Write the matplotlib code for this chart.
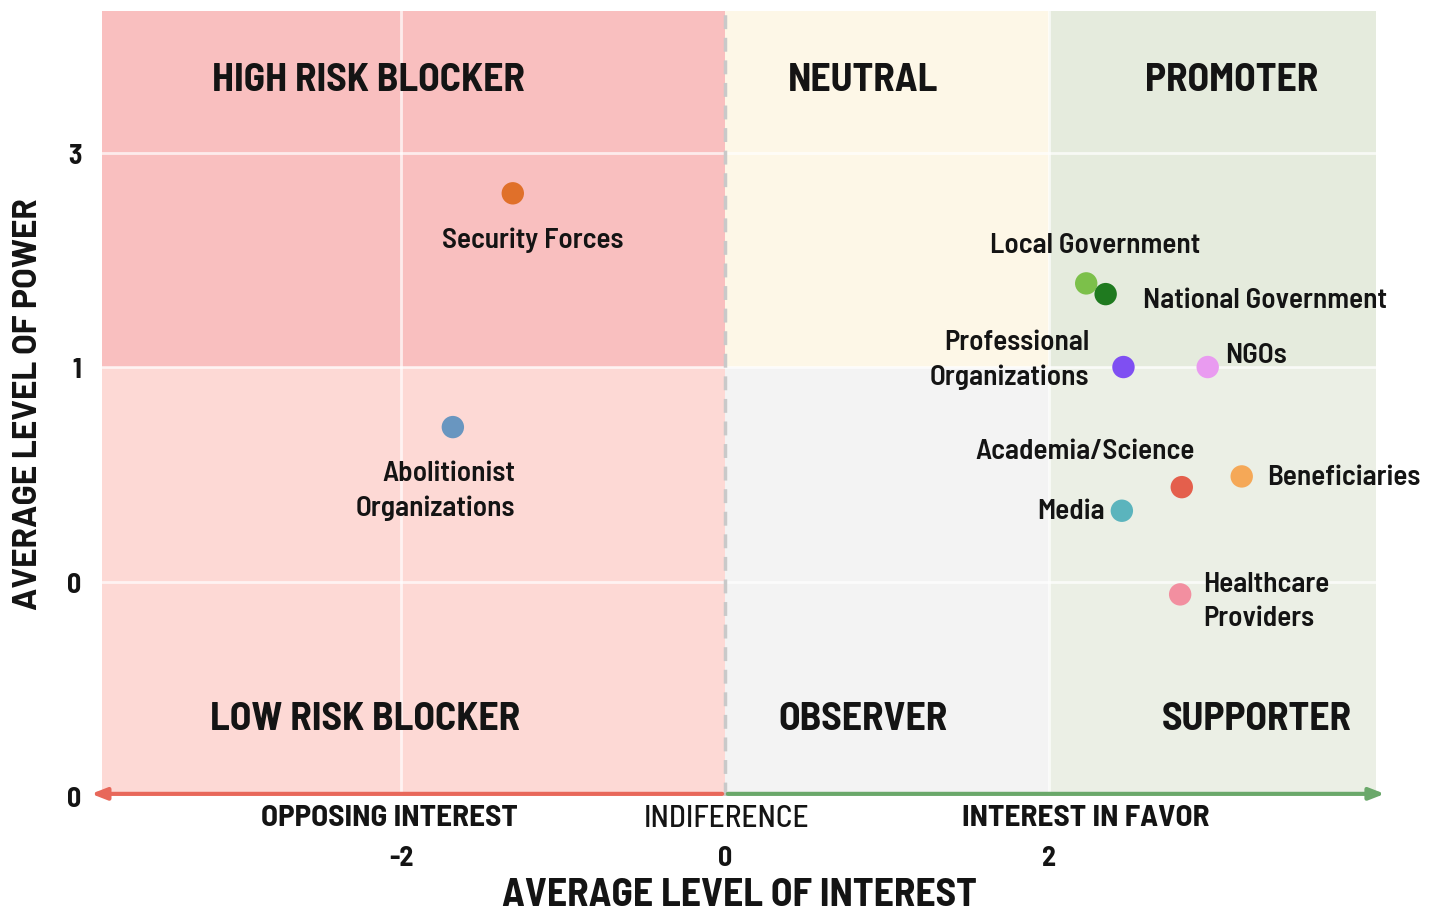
import matplotlib.pyplot as plt
from matplotlib.patches import Rectangle

# stakeholders and their position (interest, power)
names = ['Security Forces', 'Abolitionist\nOrganizations', 'Local Government',
         'National Government', 'Professional\nOrganizations', 'NGOs',
         'Academia/Science', 'Beneficiaries', 'Media', 'Healthcare\nProviders']
interest = [-1.31, -1.68, 2.23, 2.35, 2.46, 2.98, 2.82, 3.19, 2.45, 2.81]
power = [2.81, 1.72, 2.39, 2.34, 2.00, 2.00, 1.44, 1.49, 1.33, 0.94]
colors = ['#e0702a', '#6996c0', '#7cc04a', '#1f7a1f', '#7f4ff2', '#e99bf0',
          '#e45f4c', '#f5a857', '#5bb4bd', '#f28fa0']

# label offsets in pixels (dx, dy) and alignment
offsets = [(20, -46, 'center'), (62, -63, 'right'), (9, 39, 'center'),
           (37, -5, 'left'), (-34, 8, 'right'), (17, 13, 'left'),
           (-97, 37, 'center'), (25, 0, 'left'), (-17, 0, 'right'),
           (23, -6, 'left')]

x_ticks = [-2, 0, 2]
y_ticks = [0, 1, 2, 3]
y_tick_labels = ['0', '0', '1', '3']
interest_cats = ['OPPOSING INTEREST', 'INDIFERENCE', 'INTEREST IN FAVOR']
interest_cat_x = [-2.07, 0.01, 2.23]

quadrants = ['HIGH RISK BLOCKER', 'NEUTRAL', 'PROMOTER',
             'LOW RISK BLOCKER', 'OBSERVER', 'SUPPORTER']
quad_x = [-2.20, 0.85, 3.13, -2.22, 0.85, 3.28]
quad_y = [3.34, 3.34, 3.34, 0.36, 0.36, 0.36]

xmin, xmax = -3.846, 4.019
ymin, ymax = 0, 3.66
x_split = [xmin, 0, 2, xmax]
y_split = 2
quad_colors_top = ['#f9bfbf', '#fdf7e7', '#e5ebdd']
quad_colors_bot = ['#fdd9d5', '#f3f3f3', '#ebefe5']

COND = ['Barlow Semi Condensed', 'DejaVu Sans']
WIDE = ['Barlow', 'DejaVu Sans']
INK = '#141414'

fig = plt.figure(figsize=(14.29, 9.2), dpi=100)
ax = fig.add_axes([102 / 1429, 1 - 797 / 920, 1274 / 1429, 785 / 920])
ax.set_xlim(xmin, xmax)
ax.set_ylim(ymin, ymax)

for i in range(3):
    ax.add_patch(Rectangle((x_split[i], y_split), x_split[i + 1] - x_split[i],
                           ymax - y_split, color=quad_colors_top[i], lw=0, zorder=0))
    ax.add_patch(Rectangle((x_split[i], ymin), x_split[i + 1] - x_split[i],
                           y_split - ymin, color=quad_colors_bot[i], lw=0, zorder=0))

# white grid
for yv in [1, 2, 3]:
    ax.axhline(yv, color='white', lw=2, alpha=0.7, zorder=1)
for xv in [-2, 2]:
    ax.axvline(xv, color='white', lw=2, alpha=0.7, zorder=1)
ax.axvline(0, color='#c9c9c9', lw=2.5, ls=(0, (4, 2.5)), zorder=1)

# axis arrows
ax.annotate('', xy=(-3.93, 0.01), xytext=(0, 0.01), annotation_clip=False,
            arrowprops=dict(arrowstyle='-|>,head_length=0.9,head_width=0.35',
                            color='#e8685a', lw=3))
ax.annotate('', xy=(4.09, 0.01), xytext=(0, 0.01), annotation_clip=False,
            arrowprops=dict(arrowstyle='-|>,head_length=0.9,head_width=0.35',
                            color='#6aa86a', lw=3))

ax.scatter(interest, power, s=260, c=colors, zorder=3, linewidths=0)

for n, x, y, (dx, dy, ha) in zip(names, interest, power, offsets):
    ax.annotate(n, (x, y), xytext=(dx, dy), textcoords='offset pixels',
                ha=ha, va='center', fontsize=21, fontweight='semibold',
                family=COND, color=INK, linespacing=1.45, zorder=4)

for q, x, y in zip(quadrants, quad_x, quad_y):
    ax.text(x, y, q, ha='center', va='center', fontsize=28.5, fontweight='bold',
            family=COND, color=INK)

for c, x in zip(interest_cats, interest_cat_x):
    ax.text(x, -0.028, c, transform=ax.get_xaxis_transform(), ha='center',
            va='center', fontsize=22.5, family=COND, color=INK,
            fontweight='medium' if c == 'INDIFERENCE' else 'bold')

ax.set_xticks(x_ticks)
ax.set_xticklabels([str(t) for t in x_ticks], fontsize=20, fontweight='bold',
                   family=COND, color=INK)
ax.set_yticks(y_ticks)
ax.set_yticklabels(y_tick_labels, fontsize=20, fontweight='bold', family=COND,
                   color=INK)
ax.tick_params(axis='x', length=0, pad=35)
ax.tick_params(axis='y', length=0, pad=15)

ax.set_xlabel('AVERAGE LEVEL OF INTEREST', fontsize=28.5, fontweight='bold',
              family=COND, color=INK, labelpad=5)
ax.set_ylabel('AVERAGE LEVEL OF POWER', fontsize=24, fontweight='bold',
              family=WIDE, color=INK, labelpad=17)

for s in ax.spines.values():
    s.set_visible(False)

fig.savefig('out.png', dpi=100, facecolor='white')
